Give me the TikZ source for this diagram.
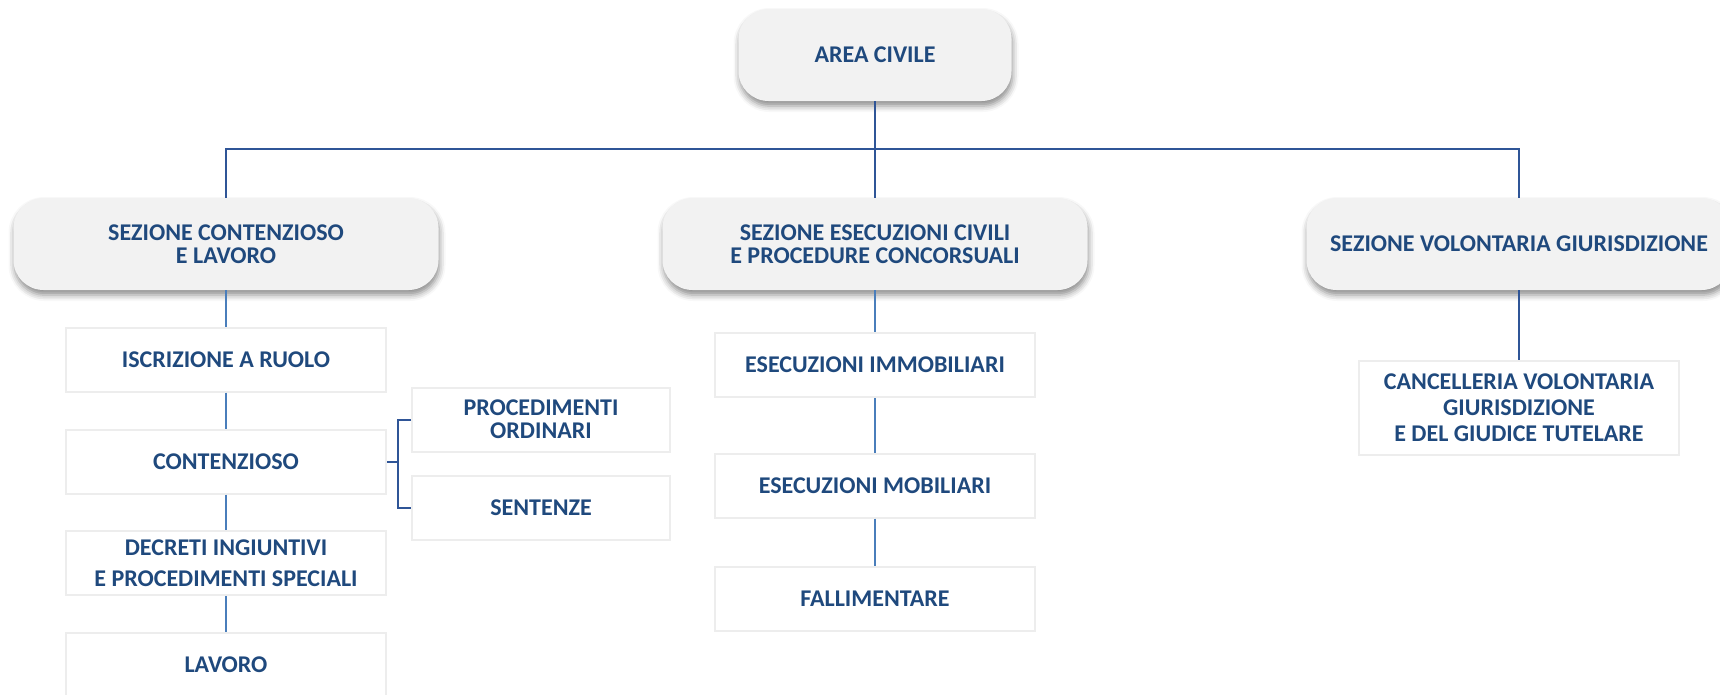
\documentclass[tikz,border=0pt]{standalone}
\usepackage{fontspec}
\setmainfont{Carlito}
\usetikzlibrary{shadows.blur}
\definecolor{boxgray}{HTML}{F2F2F2}
\definecolor{framegray}{HTML}{EDEDED}
\definecolor{titleblue}{HTML}{1F497D}
\definecolor{treeblue}{HTML}{2F5597}
\definecolor{lineblue}{HTML}{4A7EBB}
\tikzset{
  txt/.style={text=titleblue,font=\fontsize{24}{23}\selectfont\bfseries,align=center,inner sep=0pt},
  sezbox/.style={txt,fill=boxgray,rounded corners=30pt,minimum width=425pt,minimum height=92pt,
    blur shadow={shadow xshift=1pt,shadow yshift=-5pt,shadow blur radius=6pt,shadow opacity=45}},
  ufficio/.style={txt,fill=white,draw=framegray,line width=2pt,minimum width=320pt,minimum height=64pt},
  treeline/.style={draw=treeblue,line width=2pt},
  subline/.style={draw=lineblue,line width=2pt}
}
\begin{document}
\begin{tikzpicture}[x=1pt,y=-1pt]
\useasboundingbox (0,0) rectangle (1720,694);
% livello superiore
\node[sezbox,minimum width=273pt] (area) at (875,55) {AREA CIVILE};
\node[sezbox] (sezcont) at (226,244) {SEZIONE CONTENZIOSO\\E LAVORO};
\node[sezbox] (sezese) at (875,244) {SEZIONE ESECUZIONI CIVILI\\E PROCEDURE CONCORSUALI};
\node[sezbox] (sezvol) at (1519,244) {SEZIONE VOLONTARIA GIURISDIZIONE};
\coordinate (bus) at (875,149);
% uffici
\node[ufficio] (iscrizione) at (226,359.5) {ISCRIZIONE A RUOLO};
\node[ufficio] (contenzioso) at (226,461.5) {CONTENZIOSO};
\node[ufficio] (decreti) at (226,563) {DECRETI INGIUNTIVI\\[8pt]E PROCEDIMENTI SPECIALI};
\node[ufficio] (lavoro) at (226,664.5) {LAVORO};
\node[ufficio,minimum width=258pt] (procord) at (541,419.5) {PROCEDIMENTI\\ORDINARI};
\node[ufficio,minimum width=258pt] (sentenze) at (541,507.5) {SENTENZE};
\node[ufficio] (immobiliari) at (875,365) {ESECUZIONI IMMOBILIARI};
\node[ufficio] (mobiliari) at (875,485.5) {ESECUZIONI MOBILIARI};
\node[ufficio] (fallimentare) at (875,598.5) {FALLIMENTARE};
\node[ufficio,minimum height=94pt,font=\fontsize{24}{26}\selectfont\bfseries] (cancelleria) at (1519,408) {CANCELLERIA VOLONTARIA\\GIURISDIZIONE\\E DEL GIUDICE TUTELARE};
\coordinate (brk) at (398,461.5);
% collegamenti
\draw[treeline] (area) -- (sezese);
\draw[treeline] (sezcont.north) -- (sezcont.north |- bus) -- (sezvol.north |- bus) -- (sezvol.north);
\draw[subline] (sezcont) -- (iscrizione);
\draw[subline] (iscrizione) -- (contenzioso);
\draw[subline] (contenzioso) -- (decreti);
\draw[subline] (decreti) -- (lavoro);
\draw[treeline] (contenzioso) -- (brk);
\draw[treeline] (procord.west) -| (brk) |- (sentenze.west);
\draw[subline] (sezese) -- (immobiliari);
\draw[subline] (immobiliari) -- (mobiliari);
\draw[subline] (mobiliari) -- (fallimentare);
\draw[treeline] (sezvol) -- (cancelleria);
\end{tikzpicture}
\end{document}
